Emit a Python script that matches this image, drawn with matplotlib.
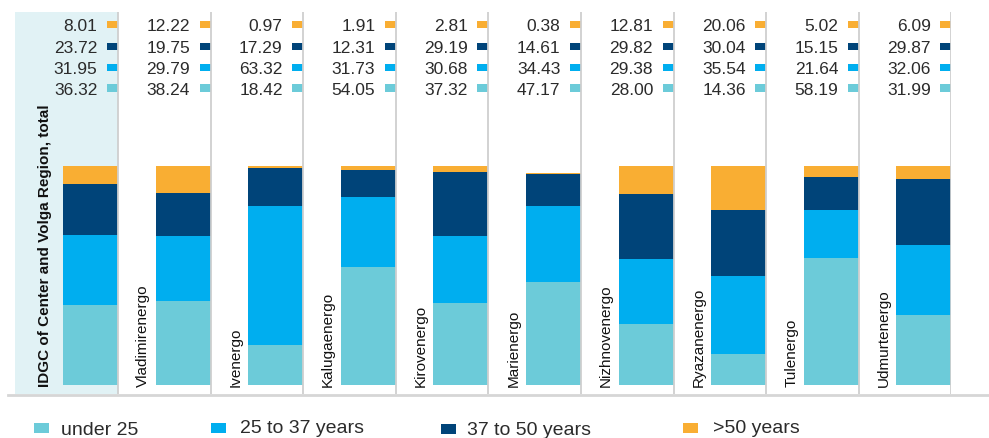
import matplotlib
matplotlib.use("Agg")
import matplotlib.pyplot as plt
from matplotlib.patches import Rectangle
import numpy as np

categories = ["IDGC of Center and Volga Region, total", "Vladimirenergo", "Ivenergo",
              "Kalugaenergo", "Kirovenergo", "Marienergo", "Nizhnovenergo",
              "Ryazanenergo", "Tulenergo", "Udmurtenergo"]
under25 = [36.32, 38.24, 18.42, 54.05, 37.32, 47.17, 28.00, 14.36, 58.19, 31.99]
y25_37 = [31.95, 29.79, 63.32, 31.73, 30.68, 34.43, 29.38, 35.54, 21.64, 32.06]
y37_50 = [23.72, 19.75, 17.29, 12.31, 29.19, 14.61, 29.82, 30.04, 15.15, 29.87]
over50 = [8.01, 12.22, 0.97, 1.91, 2.81, 0.38, 12.81, 20.06, 5.02, 6.09]
series_names = ["under 25", "25 to 37 years", "37 to 50 years", ">50 years"]
colors = ["#6ccbd9", "#00aeef", "#004479", "#f9ae33"]

plt.rcParams['font.family'] = ['Liberation Sans', 'DejaVu Sans']

W, H = 989, 439
fig = plt.figure(figsize=(W / 100, H / 100), dpi=100)

def fx(x):
    return x / W

def fy(y):
    return 1 - y / H

# axes geometry in pixels
pw = 92.6
ax_left = 118 - pw
ax_right = ax_left + 10 * pw
ax_top = 13
ax_bot = 395
ax = fig.add_axes([fx(ax_left), fy(ax_bot), fx(ax_right) - fx(ax_left), (ax_bot - ax_top) / H])
ppx = 100 / 219.0  # data units per pixel
ylo = -(ax_bot - 386) * ppx
yhi = 100 + (167 - ax_top) * ppx
ax.set_xlim(0, 10)
ax.set_ylim(ylo, yhi)
ax.axis('off')

# light background for the total panel
fig.add_artist(Rectangle((fx(15), fy(ax_bot)), fx(118) - fx(15), (ax_bot - ax_top) / H,
                         transform=fig.transFigure, facecolor="#e1f2f5", edgecolor='none', zorder=0))

series = [under25, y25_37, y37_50, over50]
n = len(categories)
x = np.arange(n) + 1
bw = 55 / pw
bottom = np.zeros(n)
for vals, c in zip(series, colors):
    ax.bar(x, vals, width=-bw, align='edge', bottom=bottom, color=c, zorder=2, linewidth=0)
    bottom += np.array(vals)

# separators
for i in range(1, n + 1):
    ax.plot([i, i], [ylo, yhi], color="#cfcfcf", lw=1.3, zorder=3, solid_capstyle='butt')

# value labels with small colour keys
row_px = [89, 68, 47, 25]  # under25, 25-37, 37-50, >50
for i in range(n):
    for s, (vals, c) in enumerate(zip(series, colors)):
        yd = 100 + (167 - row_px[s]) * ppx
        ax.text(i + 1 - 20.5 / pw, yd, f"{vals[i]:.2f}", ha='right', va='center_baseline',
                fontsize=12.5, color="#2b2b2b", zorder=4)
        ax.add_patch(Rectangle((i + 1 - 11 / pw, yd - 3.5 * ppx), 11 / pw, 7 * ppx,
                               facecolor=c, edgecolor='none', zorder=2))

# category labels
for i, cat in enumerate(categories):
    if i == 0:
        ax.text((45 - ax_left) / pw, -0.3, cat, rotation=90, ha='center', va='bottom',
                fontsize=11, fontweight='bold', color="#111111", zorder=4)
    else:
        ax.text(i + 25 / pw, -0.3, cat, rotation=90, ha='center', va='bottom',
                fontsize=11, color="#111111", zorder=4)

# baseline
fig.add_artist(plt.Line2D([fx(8), fx(989)], [fy(395.5), fy(395.5)], transform=fig.transFigure,
                          color="#d6d6d6", lw=2, zorder=5))

# legend: (square x, square top y, text x, text baseline y) in pixels
leg = [(34, 424, 61, 435.5), (211, 424, 240, 433), (441, 425, 467, 435.5), (683, 424, 713, 433)]
for (sx, sy, tx, ty), name, c in zip(leg, series_names, colors):
    fig.add_artist(Rectangle((fx(sx), fy(sy + 10)), 15 / W, 10 / H, transform=fig.transFigure,
                             facecolor=c, edgecolor='none'))
    fig.text(fx(tx), fy(ty), name, ha='left', va='baseline', fontsize=14, color="#2b2b2b")

fig.savefig("out.png", dpi=100)
